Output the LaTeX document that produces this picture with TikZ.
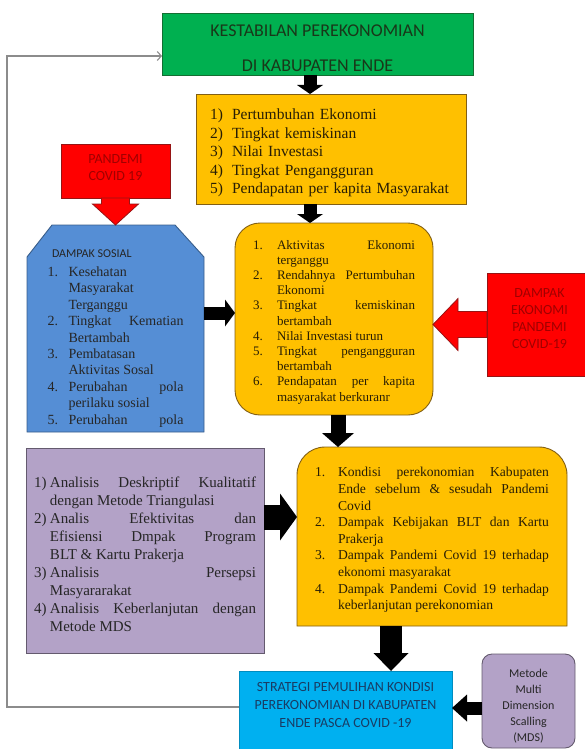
\documentclass[tikz,border=0pt]{standalone}
\usepackage{fontspec}
\setmainfont{Liberation Serif}
\newfontfamily\calibri{Carlito}
\usetikzlibrary{arrows.meta,backgrounds}
\setlength{\parindent}{0pt}

\definecolor{kgreen}{RGB}{0,176,80}
\definecolor{greenline}{RGB}{20,110,50}
\definecolor{greentext}{RGB}{25,55,25}
\definecolor{kyellow}{RGB}{255,192,0}
\definecolor{yellowline}{RGB}{130,95,20}
\definecolor{yellowtext}{RGB}{40,30,5}
\definecolor{kred}{RGB}{255,0,0}
\definecolor{redline}{RGB}{150,20,20}
\definecolor{redtext}{RGB}{160,0,0}
\definecolor{kblue}{RGB}{85,142,213}
\definecolor{blueline}{RGB}{56,93,138}
\definecolor{kpurple}{RGB}{179,162,199}
\definecolor{purpleline}{RGB}{100,90,110}
\definecolor{kcyan}{RGB}{0,176,240}
\definecolor{cyantext}{RGB}{25,60,100}

% daftar bernomor untuk isi kotak
\newenvironment{butir}[1]{\setlength{\linewidth}{\hsize}%
  \begin{list}{}{\setlength{\leftmargin}{#1}\setlength{\labelwidth}{#1}%
    \setlength{\labelsep}{0pt}\setlength{\itemsep}{0pt}\setlength{\parsep}{0pt}%
    \setlength{\topsep}{0pt}\setlength{\partopsep}{0pt}%
    \renewcommand{\makelabel}[1]{##1\hfil}}}{\end{list}}

\begin{document}
\begin{tikzpicture}[x=1pt, y=-1pt,
    box/.style={line width=0.9pt, outer sep=0pt, inner ysep=0pt},
    hijau/.style={box, draw=greenline, fill=kgreen, text=greentext, align=center, font=\calibri\fontsize{18}{35}\selectfont},
    kuning/.style={box, draw=yellowline, fill=kyellow, text=yellowtext},
    merah/.style={box, draw=redline, fill=kred, text=redtext, align=center, font=\calibri\fontsize{14}{17}\selectfont},
    ungu/.style={box, draw=purpleline, fill=kpurple, text=black!85},
    panah/.style n args={3}{draw=black, line width=#1, -{Triangle[width=#2, length=#3, line width=0pt]}},
    panahmerah/.style={fill=kred, draw=redline, line width=0.8pt},
    balik/.style={draw=black!45, line width=1.1pt, -{Straight Barb[length=4pt, width=9pt]}},
]
    \useasboundingbox (0,0) rectangle (585,749);

    \node[hijau, minimum width=311pt, minimum height=62pt] (stabil) at (317.5,44) {\rule{0pt}{21pt}KESTABILAN PEREKONOMIAN\\DI KABUPATEN ENDE};

    \node[kuning, minimum width=270pt, minimum height=110pt, inner xsep=14pt, text width=242pt, align=left,
          font=\fontsize{15.5}{18.5}\selectfont] (indikator) at (331,149) {%
      \begin{butir}{22pt}
      \item[1)] Pertumbuhan Ekonomi
      \item[2)] Tingkat kemiskinan
      \item[3)] Nilai Investasi
      \item[4)] Tingkat Pengangguran
      \item[5)] Pendapatan per kapita Masyarakat
      \end{butir}};

    \node[merah, minimum width=109pt, minimum height=54pt] (pandemi) at (115.5,171) {PANDEMI\\COVID 19\rule[-6pt]{0pt}{0pt}};

    \node[box, minimum width=177pt, minimum height=207pt, inner xsep=20.5pt, text width=136pt, align=justify,
          text=black!85, font=\fontsize{14}{16.4}\selectfont] (sosial) at (115.5,328.5) {%
      \leftskip=4.5pt
      \rule{0pt}{27pt}{\calibri\fontsize{12}{14}\selectfont DAMPAK SOSIAL}\par\vspace{3pt}
      \begin{butir}{21pt}
      \item[1.] Kesehatan\linebreak Masyarakat\linebreak Terganggu
      \item[2.] Tingkat Kematian\linebreak Bertambah
      \item[3.] Pembatasan\linebreak Aktivitas Sosal
      \item[4.] Perubahan pola\linebreak perilaku sosial
      \item[5.] Perubahan\hfill pola
      \end{butir}};

    \node[kuning, rounded corners=25pt, minimum width=198pt, minimum height=192pt, inner xsep=18pt, text width=162pt,
          align=justify, font=\fontsize{13}{15.2}\selectfont] (dampak) at (334,319) {%
      \begin{butir}{24pt}
      \item[1.] Aktivitas Ekonomi\linebreak terganggu
      \item[2.] Rendahnya Pertumbuhan\linebreak Ekonomi
      \item[3.] Tingkat kemiskinan\linebreak bertambah
      \item[4.] Nilai Investasi turun
      \item[5.] Tingkat pengangguran\linebreak bertambah
      \item[6.] Pendapatan per kapita\linebreak masyarakat berkuranr
      \end{butir}};

    \node[merah, minimum width=105pt, minimum height=103pt] (ekonomi) at (539.5,324.5) {DAMPAK\\EKONOMI\\PANDEMI\\COVID-19\rule[-12pt]{0pt}{0pt}};

    \node[ungu, minimum width=238pt, minimum height=205pt, inner xsep=8pt, text width=222pt, align=justify,
          font=\fontsize{15}{18.1}\selectfont] (metode) at (145,550.5) {%
      \begin{butir}{16pt}
      \item[1)] Analisis Deskriptif Kualitatif\linebreak dengan Metode Triangulasi
      \item[2)] Analis Efektivitas dan\linebreak Efisiensi Dmpak Program\linebreak BLT \& Kartu Prakerja
      \item[3)] Analisis Persepsi\linebreak Masyararakat
      \item[4)] Analisis Keberlanjutan dengan\linebreak Metode MDS
      \end{butir}};

    \node[box, minimum width=270pt, minimum height=179pt, inner xsep=18pt, text width=234pt, align=justify,
          text=yellowtext, font=\fontsize{13.6}{16.6}\selectfont] (hasil) at (432,536.5) {%
      \begin{butir}{23pt}
      \item[1.] Kondisi perekonomian Kabupaten\linebreak Ende sebelum \& sesudah Pandemi\linebreak Covid
      \item[2.] Dampak Kebijakan BLT dan Kartu\linebreak Prakerja
      \item[3.] Dampak Pandemi Covid 19 terhadap\linebreak ekonomi masyarakat
      \item[4.] Dampak Pandemi Covid 19 terhadap\linebreak keberlanjutan perekonomian
      \end{butir}};

    \node[box, draw=kcyan!80!black, fill=kcyan, minimum width=213pt, minimum height=80pt, text=cyantext, align=center,
          font=\calibri\fontsize{14}{18}\selectfont] (strategi) at (345.5,711) {STRATEGI PEMULIHAN KONDISI\\PEREKONOMIAN DI KABUPATEN\\ENDE PASCA COVID -19\rule[-12pt]{0pt}{0pt}};

    \node[ungu, rounded corners=10pt, minimum width=93pt, minimum height=94pt, align=center,
          font=\calibri\fontsize{12}{16}\selectfont] (mds) at (528.5,701) {\rule{0pt}{19pt}Metode\\Multi\\Dimension\\Scalling\\(MDS)};

    \begin{scope}[on background layer]
        \filldraw[fill=kblue, draw=blueline, line width=0.9pt] (sosial.south west) -- ([yshift=-32pt]sosial.north west)
            -- ([xshift=25pt]sosial.north west) -- ([xshift=-29pt]sosial.north east)
            -- ([yshift=-32pt]sosial.north east) -- (sosial.south east) -- cycle;
        \filldraw[fill=kyellow, draw=yellowline, line width=0.9pt] (hasil.south west) -- ([yshift=-28pt]hasil.north west)
            arc[start angle=180, end angle=90, radius=28pt] -- ([xshift=-28pt]hasil.north east)
            arc[start angle=90, end angle=0, radius=28pt] -- (hasil.south east) -- cycle;
    \end{scope}

    % panah merah
    \filldraw[panahmerah] ([xshift=-14pt]pandemi.south) -- ++(0,6) -- ++(-9,0) -- (sosial.north)
        -- ++(23,-21) -- ++(-9,0) -- ([xshift=14pt]pandemi.south) -- cycle;
    \filldraw[panahmerah] ([yshift=13pt]ekonomi.west) -- ++(-29,0) -- ++(0,-13) -- (ekonomi.west -| dampak.east)
        -- ++(25,26) -- ++(0,-13) -- ([yshift=-13pt]ekonomi.west) -- cycle;

    % panah hitam
    \draw[panah={13pt}{26pt}{9pt}] ([xshift=-7.5pt]stabil.south) -- ([xshift=-21pt]indikator.north);
    \draw[panah={13pt}{26pt}{9pt}] ([xshift=-21pt]indikator.south) -- ([xshift=-24pt]dampak.north);
    \draw[panah={13pt}{27pt}{10pt}] ([yshift=15.5pt]sosial.east) -- ([yshift=6pt]dampak.west);
    \draw[panah={15pt}{32pt}{14pt}] ([xshift=4pt]dampak.south) -- ([xshift=-94pt]hasil.north);
    \draw[panah={25pt}{47pt}{17pt}] ([yshift=33.5pt]metode.east) -- ([yshift=19.5pt]hasil.west);
    \draw[panah={22pt}{35pt}{18pt}] ([xshift=-41pt]hasil.south) -- ([xshift=45.5pt]strategi.north);
    \draw[panah={13pt}{27pt}{15pt}] ([yshift=-7pt]mds.west) -- ([yshift=3pt]strategi.east);

    % umpan balik
    \draw[balik] ([yshift=4pt]strategi.west) -| (7,56) -- ([yshift=-12pt]stabil.west);
\end{tikzpicture}
\end{document}
